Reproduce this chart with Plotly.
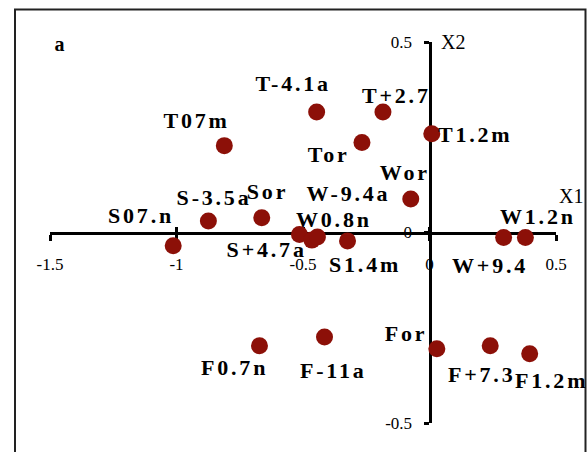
import plotly.graph_objects as go

# ---- data ----
labels = ["T07m", "T-4.1a", "T+2.7", "T1.2m", "Tor", "Wor", "S-3.5a", "Sor", "S07.n",
          "S+4.7a", "W0.8n", "W-9.4a", "S1.4m", "W+9.4", "W1.2n", "F0.7n", "F-11a",
          "For", "F+7.3", "F1.2m"]
x1 = [-0.811, -0.446, -0.184, 0.009, -0.267, -0.074, -0.874, -0.663, -1.013,
      -0.514, -0.465, -0.443, -0.324, 0.293, 0.379, -0.672, -0.415,
      0.029, 0.240, 0.396]
x2 = [0.228, 0.316, 0.316, 0.259, 0.236, 0.088, 0.030, 0.039, -0.035,
      -0.005, -0.020, -0.012, -0.022, -0.013, -0.013, -0.297, -0.274,
      -0.305, -0.297, -0.318]
x_ticks = [-1.5, -1, -0.5, 0, 0.5]
y_ticks = [-0.5, 0, 0.5]

# ---- label placement (pixel offsets from point, screen coords) ----
label_offsets = [(-28, -25), (-24, -29), (14, -17), (44, 1), (-33, 12), (-6, -26),
                 (6, -24), (6, -26), (-32, -30), (-33, 15), (22, -21), (31, -44),
                 (17, 24), (-14, 28), (13, -21), (-25, 22), (9, 34), (-31, -15),
                 (-9, 29), (22, 27)]

SERIF = "Liberation Serif, Times New Roman, serif"
MARK = "#8c1008"

fig = go.Figure()
fig.add_trace(go.Scatter(
    x=x1, y=x2, mode="markers",
    marker=dict(size=17, color=MARK, line=dict(width=0)),
    cliponaxis=False, showlegend=False, hoverinfo="skip"))
# helper trace for the overlay axis (crossing ticks)
fig.add_trace(go.Scatter(
    x=x1, y=x2, mode="markers", xaxis="x2",
    marker=dict(size=1, opacity=0), showlegend=False, hoverinfo="skip"))

for lab, x, y, (dx, dy) in zip(labels, x1, x2, label_offsets):
    fig.add_annotation(x=x, y=y, text="<b>%s</b>" % lab, showarrow=False,
                       xshift=dx, yshift=-dy,
                       font=dict(family=SERIF, size=22, color="black"))

# axis titles and panel letter
fig.add_annotation(x=0, y=0.5, text="X2", showarrow=False, xanchor="left",
                   xshift=9, font=dict(family=SERIF, size=20, color="black"))
fig.add_annotation(x=0.5, y=0, text="X1", showarrow=False, xanchor="left",
                   xshift=1, yshift=37, font=dict(family=SERIF, size=20, color="black"))
fig.add_annotation(xref="paper", yref="paper", x=(54 - 50) / 506, y=(423 - 31) / 381,
                   text="<b>a</b>", showarrow=False,
                   font=dict(family=SERIF, size=20, color="black"))

# outer frame
fig.add_shape(type="rect", xref="paper", yref="paper",
              x0=(15 - 50) / 506, x1=(585.5 - 50) / 506,
              y0=(423 - 470) / 381, y1=(423 - 9.5) / 381,
              line=dict(color="#222222", width=2), fillcolor="rgba(0,0,0,0)",
              layer="below")

axis_common = dict(showgrid=False, zeroline=False, showline=True, linewidth=3,
                   linecolor="black", tickcolor="black", tickwidth=3,
                   layer="below traces",
                   tickfont=dict(family=SERIF, size=17, color="black"))

fig.update_layout(
    width=588, height=452,
    margin=dict(l=50, r=32, t=42, b=29),
    paper_bgcolor="white", plot_bgcolor="white",
    xaxis=dict(range=[-1.5, 0.5], anchor="free", position=0.5,
               tickmode="array", tickvals=x_ticks,
               ticktext=[("%g" % v) for v in x_ticks],
               ticks="outside", ticklen=6, ticklabelstandoff=9,
               **axis_common),
    xaxis2=dict(range=[-1.5, 0.5], overlaying="x", anchor="free", position=0.5,
                tickmode="array", tickvals=x_ticks, showticklabels=False,
                ticks="inside", ticklen=6, showgrid=False, zeroline=False,
                showline=False, tickcolor="black", tickwidth=3, layer="below traces"),
    yaxis=dict(range=[-0.5, 0.5], anchor="free", position=0.75,
               tickmode="array", tickvals=y_ticks,
               ticktext=[("%g" % v) for v in y_ticks],
               ticks="outside", ticklen=5, ticklabelstandoff=8,
               **axis_common),
    showlegend=False,
)

# widen the letter spacing of the bold point labels, as in the original
post = """
var gd = document.getElementById('{plot_id}');
gd.querySelectorAll('text.annotation-text').forEach(function(t){
  if (t.querySelector('b') || t.innerHTML.indexOf('font-weight') >= 0) {
    t.style.letterSpacing = '2.8px';
  }
});
"""

fig.write_html("out.html", post_script=post)
